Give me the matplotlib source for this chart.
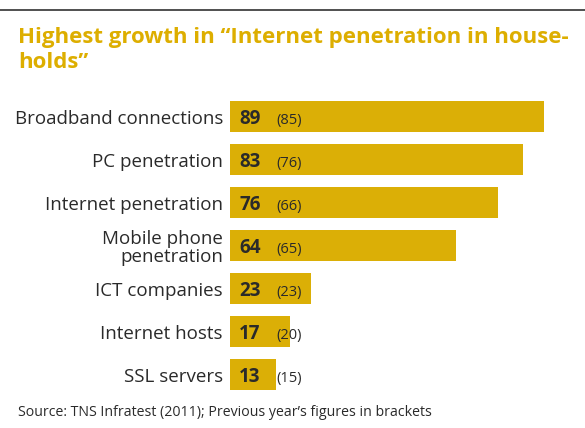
import matplotlib
matplotlib.use("Agg")
import matplotlib.pyplot as plt
from matplotlib.lines import Line2D

# Indicator data (2011 values, previous year in brackets)
categories = [
    "Broadband connections",
    "PC penetration",
    "Internet penetration",
    "Mobile phone\npenetration",
    "ICT companies",
    "Internet hosts",
    "SSL servers",
]
values_2011 = [89, 83, 76, 64, 23, 17, 13]
values_prev = [85, 76, 66, 65, 23, 20, 15]

BAR = "#DBAF06"
TITLE = "#DDAE00"
TEXT = "#2a2a2a"
FONT = "Open Sans"

W, H = 585, 428
fig = plt.figure(figsize=(W / 100, H / 100), dpi=100)

# rule across the top
fig.add_artist(Line2D([0, 1], [1 - 9.5 / H, 1 - 9.5 / H], color="#505050", lw=1.4,
                      transform=fig.transFigure))

title_lines = ["Highest growth in \u201cInternet penetration in house-", "holds\u201d"]
for i, line in enumerate(title_lines):
    fig.text(18 / W, 1 - (42.5 + 25.5 * i) / H, line,
             color=TITLE, fontsize=16, fontweight="bold", family=FONT,
             ha="left", va="baseline")

# axes placed so bar slots are 43 px apart, scale 3.528 px per unit
top_px, bot_px = 94.85, 395.85
left_px, width_px = 230, 352.8
ax = fig.add_axes([left_px / W, 1 - bot_px / H, width_px / W, (bot_px - top_px) / H])
ypos = list(range(len(categories)))
ax.barh(ypos, values_2011, height=0.714, color=BAR, edgecolor="none")
ax.set_xlim(0, 100)
ax.set_ylim(len(categories) - 0.5, -0.5)
ax.axis("off")

for y, cat, v, p in zip(ypos, categories, values_2011, values_prev):
    ax.annotate(cat, xy=(0, y), xytext=(-7, -3), textcoords="offset pixels",
                ha="right", va="center", fontsize=13.5, color=TEXT, family=FONT,
                linespacing=1.0)
    ax.annotate(str(v), xy=(0, y), xytext=(9, -3), textcoords="offset pixels",
                ha="left", va="center", fontsize=13.5, fontweight="bold",
                color=TEXT, family=FONT)
    ax.annotate(f"({p})", xy=(0, y), xytext=(46, -4.5), textcoords="offset pixels",
                ha="left", va="center", fontsize=10.5, color=TEXT, family=FONT)

fig.text(18 / W, 1 - 416 / H,
         "Source: TNS Infratest (2011); Previous year\u2019s figures in brackets",
         color=TEXT, fontsize=10.2, family=FONT, ha="left", va="baseline")

fig.savefig("out.png", dpi=100, facecolor="white")
